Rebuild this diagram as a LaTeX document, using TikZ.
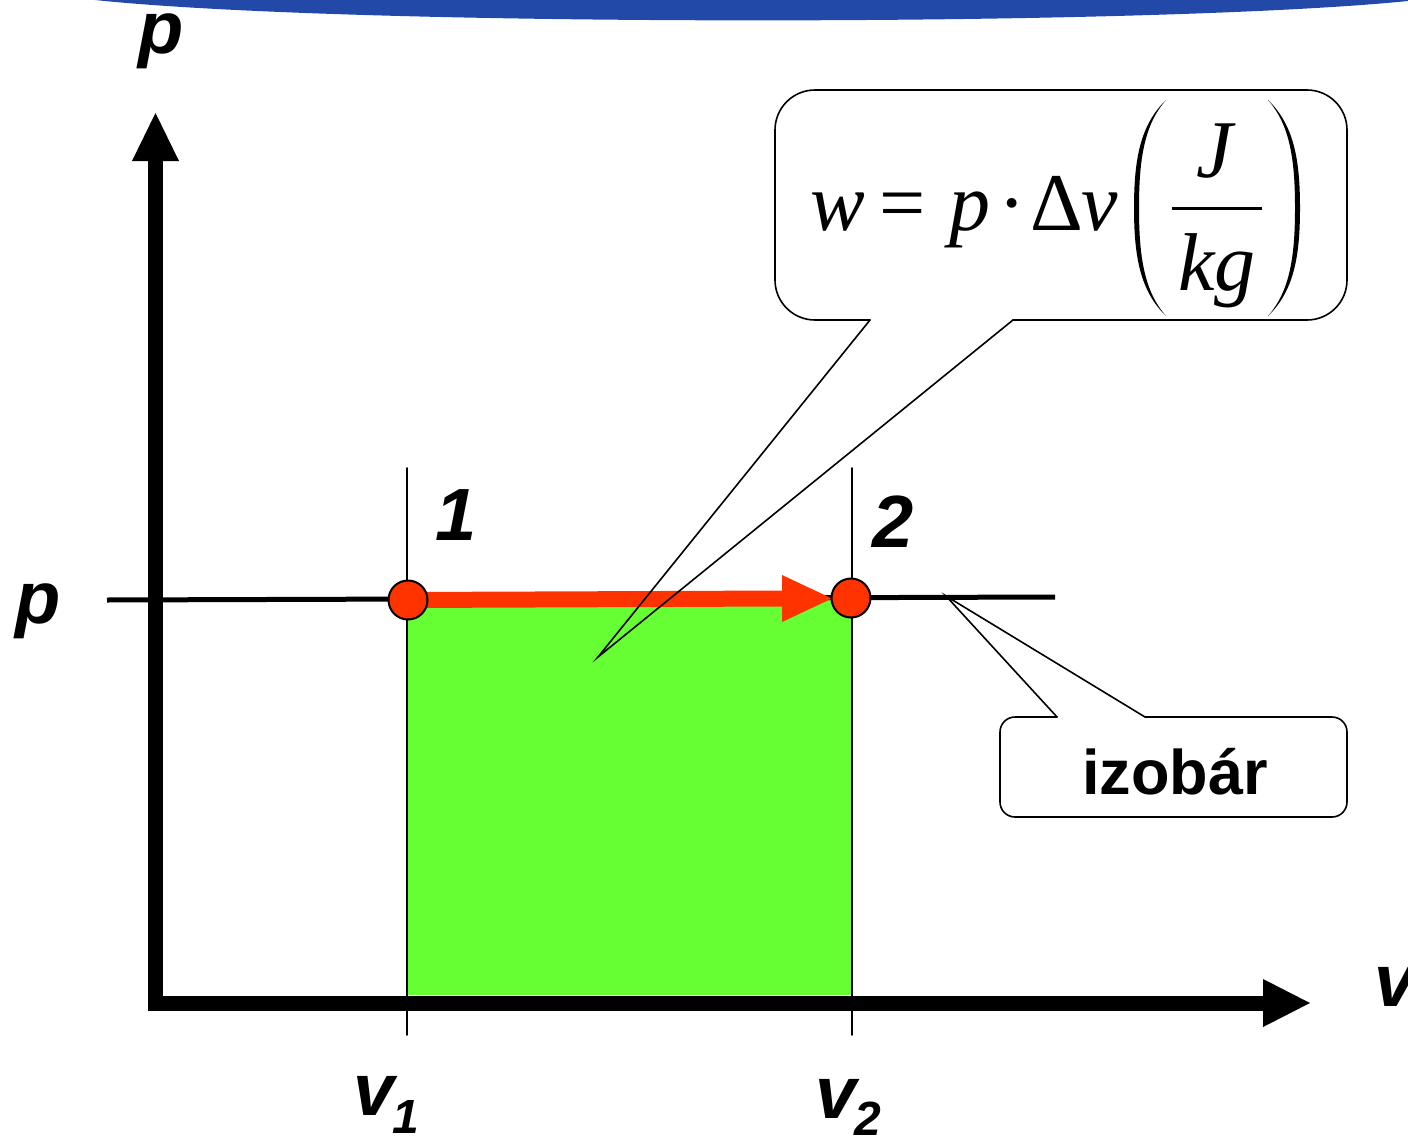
\documentclass[tikz,border=0pt]{standalone}
\usepackage{fontspec}
\setmainfont{Liberation Sans}
\newfontfamily\serifff{Liberation Serif}
\definecolor{topblue}{HTML}{2349A8}
\definecolor{areagreen}{HTML}{66FF33}
\definecolor{redc}{HTML}{FF3300}
\begin{document}
\begin{tikzpicture}[x=1pt,y=-1pt,
  lab/.style={font=\fontsize{74}{74}\selectfont\bfseries\itshape, inner sep=0pt, anchor=base},
  sublab/.style={font=\fontsize{48}{48}\selectfont\bfseries\itshape, inner sep=0pt, anchor=base},
  frm/.style={font=\fontsize{82}{82}\selectfont\serifff, inner sep=0pt, anchor=base},
  thinline/.style={line width=1.6pt, line cap=round},
  axis/.style={line width=15pt, line join=miter},
  pt/.style={circle, draw=black, fill=redc, line width=2pt, minimum size=39pt, inner sep=0pt},
]
\useasboundingbox (0,0) rectangle (1408,1137);
% top blue band
\fill[topblue] (95,0) .. controls (350,27) and (1150,27) .. (1408,1) -- (1408,0) -- cycle;

% green work area
\fill[areagreen] (407,600) rectangle (852,995);

% vertical markers
\coordinate (m1t) at (407,468); \coordinate (m1b) at (407,1035);
\coordinate (m2t) at (852,468); \coordinate (m2b) at (852,1035);
\draw[thinline] (m1t) -- (m1b);
\draw[thinline] (m2t) -- (m2b);

% isobar line
\coordinate (isoL) at (107,600); \coordinate (isoR) at (1055,597);
\draw[line width=5pt] (isoL) -- (isoR);

% axes
\coordinate (ytop) at (155.5,160); \coordinate (orig) at (155.5,1003); \coordinate (xend) at (1265,1003);
\draw[axis] (ytop) -- (orig) -- (xend);
\fill (132,161) -- (155.5,113) -- (179,161) -- cycle;
\fill (1263,979) -- (1310,1003) -- (1263,1027) -- cycle;

% process arrow and states
\coordinate (c1) at (408,600);
\coordinate (c2) at (851,598);
\draw[redc, line width=16pt] (c1) -- (785,598.5);
\fill[redc] (782,575) -- (832,598.5) -- (782,622) -- cycle;
\node[pt] (s1) at (c1) {};
\node[pt] (s2) at (c2) {};

% labels
\node[lab] (pT) at (161,54) {p};
\node[lab] (pL) at (38,623) {p};
\node[lab] (n1) at (456,540) {1};
\node[lab] (n2) at (893,547) {2};
\node[lab] (v1) at (374,1115) {v};
\node[sublab] (v1s) at (406,1133) {1};
\node[lab] (v2) at (836,1118) {v};
\node[sublab] (v2s) at (868,1135) {2};
\node[lab] (vax) at (1395,1006) {v};

% formula callout
\draw[thinline, rounded corners=40pt] (1013,320) -- (1347,320) -- (1347,90) -- (775,90) -- (775,320) -- (870,320);
\coordinate (tipA) at (598,657);
\draw[thinline, line join=miter] (870,320) -- (tipA) -- (1013,320);

\node[frm] (fw) at (838,230) {\itshape w};
\node[frm] (feq) at (903,230) {=};
\node[frm] (fp) at (970,230) {\itshape p};
\node[frm] (fdot) at (1012,230) {·};
\node[frm] (fD) at (1057,230) {Δ};
\node[frm] (fv) at (1100,230) {\itshape v};
\node[frm] (fJ) at (1215,178) {\itshape J};
\node[frm] (fkg) at (1217,290) {\itshape kg};
\draw[line width=3pt] (1172,208) -- (1262,208);
\fill (1166,100) .. controls (1140,125) and (1134,160) .. (1134,208) .. controls (1134,256) and (1140,291) .. (1166,316)
  .. controls (1144,291) and (1139,256) .. (1139,208) .. controls (1139,160) and (1144,125) .. (1166,100) -- cycle;
\fill (1268,100) .. controls (1294,125) and (1300,160) .. (1300,208) .. controls (1300,256) and (1294,291) .. (1268,316)
  .. controls (1290,291) and (1295,256) .. (1295,208) .. controls (1295,160) and (1290,125) .. (1268,100) -- cycle;

% izobar callout
\draw[thinline, rounded corners=15pt] (1145,717) -- (1347,717) -- (1347,817) -- (1000,817) -- (1000,717) -- (1057,717);
\coordinate (tipB) at (946,596);
\draw[thinline, line join=miter] (1057,717) -- (tipB) -- (1145,717);
\node[font=\fontsize{63}{63}\selectfont\bfseries, inner sep=0pt, anchor=base] (iz) at (1175,794) {izobár};
\end{tikzpicture}
\end{document}
